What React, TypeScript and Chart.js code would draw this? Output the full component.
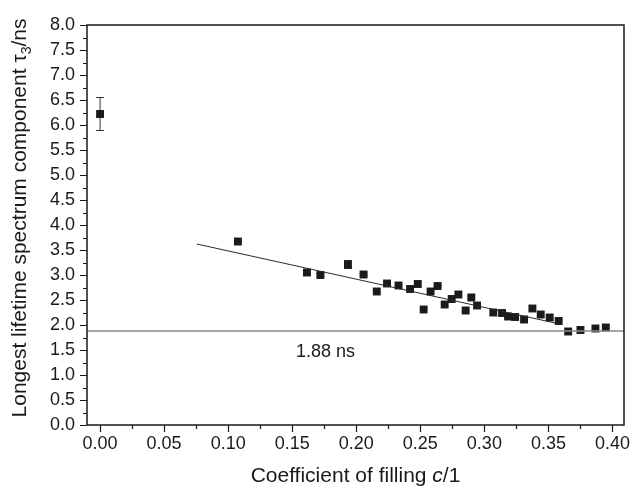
import { useEffect, useRef } from "react";
import { Chart, registerables } from "chart.js";
Chart.register(...registerables);

// Coefficient of filling c (x) and longest lifetime component tau3 in ns (y)
const fillingC = [
  0.0, 0.1076, 0.1615, 0.172, 0.1935, 0.2057, 0.216, 0.224, 0.233, 0.242, 0.248,
  0.2526, 0.258, 0.2635, 0.269, 0.2745, 0.2797, 0.2854, 0.2898, 0.2943, 0.307,
  0.3138, 0.3185, 0.324, 0.331, 0.3375, 0.344, 0.351, 0.358, 0.3654, 0.375,
  0.3867, 0.3948,
];
const tau3 = [
  6.22, 3.67, 3.05, 3.0, 3.21, 3.01, 2.67, 2.83, 2.79, 2.72, 2.82, 2.31, 2.67,
  2.78, 2.41, 2.52, 2.61, 2.29, 2.55, 2.39, 2.25, 2.24, 2.17, 2.16, 2.11, 2.33,
  2.21, 2.15, 2.08, 1.87, 1.9, 1.93, 1.95,
];
const tau3Err = [
  0.33, 0, 0.03, 0.03, 0.08, 0.02, 0, 0, 0, 0, 0, 0, 0, 0.02, 0, 0, 0, 0, 0, 0,
  0, 0, 0, 0, 0, 0, 0, 0, 0, 0, 0, 0, 0,
];
const fitC = [0.0755, 0.357];
const fitTau = [3.62, 2.03];
const refLevel = 1.88;
const refLabel = "1.88 ns";
const refLabelAt = { c: 0.176, tau: 1.46 };
const xTicks = [0, 0.05, 0.1, 0.15, 0.2, 0.25, 0.3, 0.35, 0.4];
const yTicks = [0, 0.5, 1, 1.5, 2, 2.5, 3, 3.5, 4, 4.5, 5, 5.5, 6, 6.5, 7, 7.5, 8];
const X_MIN = -0.0102;
const X_MAX = 0.409;
const Y_MIN = 0;
const Y_MAX = 8;
const xTitleMain = "Coefficient of filling ";
const xTitleItalic = "c";
const xTitleEnd = "/1";
const yTitleMain = "Longest lifetime spectrum component τ";
const yTitleSub = "3";
const yTitleEnd = "/ns";

const FONT = '"Liberation Sans", Arial, Helvetica, sans-serif';
const INK = "#1a1a1a";

const decorPlugin = {
  id: "decor",
  beforeDatasetsDraw(chart: any) {
    const ctx = chart.ctx;
    const xs = chart.scales.x;
    const ys = chart.scales.y;
    ctx.save();
    ctx.strokeStyle = "#333";
    ctx.lineWidth = 1;
    for (let i = 0; i < fillingC.length; i++) {
      const e = tau3Err[i];
      if (!e) continue;
      const px = xs.getPixelForValue(fillingC[i]);
      const y1 = ys.getPixelForValue(tau3[i] - e);
      const y2 = ys.getPixelForValue(tau3[i] + e);
      ctx.beginPath();
      ctx.moveTo(px, y1);
      ctx.lineTo(px, y2);
      ctx.moveTo(px - 4, y1);
      ctx.lineTo(px + 4, y1);
      ctx.moveTo(px - 4, y2);
      ctx.lineTo(px + 4, y2);
      ctx.stroke();
    }
    ctx.restore();
  },
  afterDraw(chart: any) {
    const ctx = chart.ctx;
    const a = chart.chartArea;
    const xs = chart.scales.x;
    const ys = chart.scales.y;
    ctx.save();
    // frame
    ctx.strokeStyle = INK;
    ctx.lineWidth = 1.5;
    ctx.strokeRect(a.left, a.top, a.right - a.left, a.bottom - a.top);
    // ticks
    ctx.lineWidth = 1.2;
    ctx.beginPath();
    for (let k = 0; k <= 32; k++) {
      const v = k * 0.25;
      const py = Math.round(ys.getPixelForValue(v)) + 0.5;
      const len = k % 2 === 0 ? 7 : 4;
      ctx.moveTo(a.left, py);
      ctx.lineTo(a.left - len, py);
    }
    for (let k = 0; k <= 16; k++) {
      const v = k * 0.025;
      const px = Math.round(xs.getPixelForValue(v)) + 0.5;
      const len = k % 2 === 0 ? 7 : 4;
      ctx.moveTo(px, a.bottom);
      ctx.lineTo(px, a.bottom + len);
    }
    ctx.stroke();
    // reference label
    ctx.fillStyle = INK;
    ctx.font = `18px ${FONT}`;
    ctx.textAlign = "center";
    ctx.textBaseline = "middle";
    ctx.fillText(refLabel, xs.getPixelForValue(refLabelAt.c), ys.getPixelForValue(refLabelAt.tau));
    // x title
    const tf = `21px ${FONT}`;
    const tfi = `italic 21px ${FONT}`;
    ctx.textAlign = "left";
    ctx.textBaseline = "alphabetic";
    ctx.font = tf;
    const w1 = ctx.measureText(xTitleMain).width;
    const w3 = ctx.measureText(xTitleEnd).width;
    ctx.font = tfi;
    const w2 = ctx.measureText(xTitleItalic).width;
    const total = w1 + w2 + w3;
    const x0 = (a.left + a.right) / 2 - total / 2;
    const by = 482;
    ctx.font = tf;
    ctx.fillText(xTitleMain, x0, by);
    ctx.font = tfi;
    ctx.fillText(xTitleItalic, x0 + w1, by);
    ctx.font = tf;
    ctx.fillText(xTitleEnd, x0 + w1 + w2, by);
    // y title
    ctx.translate(26, (a.top + a.bottom) / 2 - 7);
    ctx.rotate(-Math.PI / 2);
    ctx.font = tf;
    const m1 = ctx.measureText(yTitleMain).width;
    const m3 = ctx.measureText(yTitleEnd).width;
    ctx.font = `14px ${FONT}`;
    const m2 = ctx.measureText(yTitleSub).width;
    const tot = m1 + m2 + m3;
    const s0 = -tot / 2;
    ctx.font = tf;
    ctx.fillText(yTitleMain, s0, 0);
    ctx.font = `14px ${FONT}`;
    ctx.fillText(yTitleSub, s0 + m1, 5);
    ctx.font = tf;
    ctx.fillText(yTitleEnd, s0 + m1 + m2, 0);
    ctx.restore();
  },
};

export default function App() {
  const ref = useRef<HTMLCanvasElement | null>(null);
  useEffect(() => {
    if (!ref.current) return;
    const points = fillingC.map((c, i) => ({ x: c, y: tau3[i] }));
    const fit = fitC.map((c, i) => ({ x: c, y: fitTau[i] }));
    const refLine = [
      { x: X_MIN, y: refLevel },
      { x: X_MAX, y: refLevel },
    ];
    const chart = new Chart(ref.current, {
      type: "scatter",
      data: {
        datasets: [
          {
            label: "ref",
            data: refLine,
            showLine: true,
            borderColor: "#8a8a8a",
            borderWidth: 1.6,
            pointRadius: 0,
          },
          {
            label: "fit",
            data: fit,
            showLine: true,
            borderColor: "#2a2a2a",
            borderWidth: 1,
            pointRadius: 0,
          },
          {
            label: "tau3",
            data: points,
            pointStyle: "rect",
            pointRadius: 5.6,
            backgroundColor: INK,
            borderColor: INK,
            borderWidth: 0,
          },
        ],
      },
      options: {
        responsive: false,
        animation: false,
        layout: { padding: { top: 25, right: 6, left: 0, bottom: 0 } },
        plugins: { legend: { display: false }, tooltip: { enabled: false } },
        scales: {
          x: {
            type: "linear",
            min: X_MIN,
            max: X_MAX,
            afterBuildTicks: (s: any) => {
              s.ticks = xTicks.map((v) => ({ value: v }));
            },
            afterFit: (s: any) => {
              s.height = 61;
              s.paddingLeft = 0;
              s.paddingRight = 0;
            },
            grid: { display: false, drawTicks: false },
            border: { display: false },
            ticks: {
              padding: 8,
              color: INK,
              font: { family: FONT, size: 18 },
              maxRotation: 0,
              autoSkip: false,
              callback: (v: any) => Number(v).toFixed(2),
            },
          },
          y: {
            type: "linear",
            min: Y_MIN,
            max: Y_MAX,
            afterBuildTicks: (s: any) => {
              s.ticks = yTicks.map((v) => ({ value: v }));
            },
            afterFit: (s: any) => {
              s.width = 87;
              s.paddingTop = 0;
              s.paddingBottom = 0;
            },
            grid: { display: false, drawTicks: false },
            border: { display: false },
            ticks: {
              padding: 12,
              color: INK,
              font: { family: FONT, size: 18 },
              autoSkip: false,
              callback: (v: any) => Number(v).toFixed(1),
            },
          },
        },
      },
      plugins: [decorPlugin],
    });
    return () => chart.destroy();
  }, []);
  return (
    <div style={{ position: "absolute", left: 0, top: 0, width: 630, height: 486, background: "#fff" }}>
      <canvas ref={ref} width={630} height={486} style={{ display: "block" }} />
    </div>
  );
}
